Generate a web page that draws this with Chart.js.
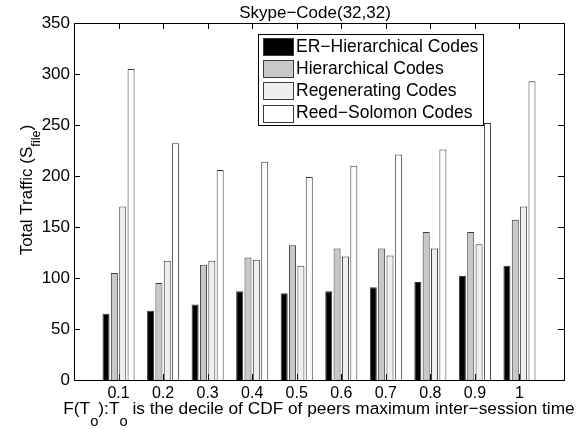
<!DOCTYPE html>
<html>
<head>
<meta charset="utf-8">
<script src="https://cdn.jsdelivr.net/npm/chart.js@4/dist/chart.umd.min.js"></script>
<style>
  html, body { margin: 0; padding: 0; background: #fff; }
</style>
</head>
<body>
<canvas id="chart" width="582" height="430"></canvas>
<script>
// ── data ─────────────────────────────────────────────────────────────────
var categories = ['0.1', '0.2', '0.3', '0.4', '0.5', '0.6', '0.7', '0.8', '0.9', '1'];
var erHierarchical = [65, 68, 74, 87, 85, 87, 91, 96, 102, 112];
var hierarchical   = [105, 95, 113, 120, 132, 129, 129, 145, 145, 157];
var regenerating   = [170, 117, 117, 118, 112, 121, 122, 129, 133, 170];
var reedSolomon    = [305, 232, 206, 214, 199, 210, 221, 226, 252, 293];
var seriesNames = ['ER\u2212Hierarchical Codes', 'Hierarchical Codes', 'Regenerating Codes', 'Reed\u2212Solomon Codes'];
var seriesFills = ['#000000', '#c8c8c8', '#efefef', '#ffffff'];
var yMin = 0, yMax = 350, yStep = 50;

var FONT = '"Liberation Sans", Arial, Helvetica, sans-serif';

// MATLAB puts the bars at x = 1..10 inside an axis running 0..11, so pad
// one empty slot on each side and turn the category offset off.
function _pad(arr) { return [null].concat(arr, [null]); }
var labels = [''].concat(categories, ['']);

var seriesData = [erHierarchical, hierarchical, regenerating, reedSolomon];
var datasets = seriesData.map(function(vals, i) {
  return {
    label: seriesNames[i],
    data: _pad(vals),
    backgroundColor: seriesFills[i],
    borderColor: '#3a3a3a',
    borderWidth: 1,
    categoryPercentage: 0.75,
    barPercentage: 0.84
  };
});

// Draw a string with TeX-ish subscripts: parts = [{t:'..', sub:true}, ...]
function _drawRich(ctx, parts, x, y, size, align, subScale, subDrop) {
  var subSize = size * subScale;
  var total = 0;
  parts.forEach(function(p) {
    ctx.font = (p.sub ? subSize : size) + 'px ' + FONT;
    p.w = ctx.measureText(p.t).width;
    total += p.w;
  });
  var cx = align === 'center' ? x - total / 2 : x;
  ctx.textAlign = 'left';
  ctx.textBaseline = 'alphabetic';
  parts.forEach(function(p) {
    ctx.font = (p.sub ? subSize : size) + 'px ' + FONT;
    ctx.fillText(p.t, cx, p.sub ? y + size * subDrop : y);
    cx += p.w;
  });
}

// ── MATLAB style axes: inward ticks, box, legend, titles ─────────────────
var matlabAxes = {
  id: 'matlabAxes',
  beforeDatasetsDraw: function(chart) {
    var ctx = chart.ctx, a = chart.chartArea;
    var xs = chart.scales.x, ys = chart.scales.y;
    var tl = 6;
    ctx.save();
    ctx.strokeStyle = '#000';
    ctx.lineWidth = 1;
    ctx.beginPath();
    for (var i = 1; i <= categories.length; i++) {
      var px = Math.round(xs.getPixelForValue(i)) + 0.5;
      ctx.moveTo(px, a.bottom); ctx.lineTo(px, a.bottom - tl);
      ctx.moveTo(px, a.top); ctx.lineTo(px, a.top + tl);
    }
    for (var v = yMin; v <= yMax; v += yStep) {
      var py = Math.round(ys.getPixelForValue(v)) + 0.5;
      ctx.moveTo(a.left, py); ctx.lineTo(a.left + tl, py);
      ctx.moveTo(a.right, py); ctx.lineTo(a.right - tl, py);
    }
    ctx.stroke();
    ctx.restore();
  },
  afterDraw: function(chart) {
    var ctx = chart.ctx, a = chart.chartArea;
    ctx.save();
    // axis box
    ctx.strokeStyle = '#000';
    ctx.lineWidth = 1;
    ctx.strokeRect(Math.round(a.left) + 0.5, Math.round(a.top) + 0.5,
                   Math.round(a.right - a.left), Math.round(a.bottom - a.top));

    ctx.fillStyle = '#000';
    // title
    _drawRich(ctx, [{ t: 'Skype\u2212Code(32,32)' }], (a.left + a.right) / 2 - 4, 18, 17, 'center', 1, 0);

    // x title
    _drawRich(ctx, [
      { t: 'F(T' }, { t: 'o', sub: true }, { t: '):T' }, { t: 'o', sub: true },
      { t: ' is the decile of CDF of peers maximum inter\u2212session time' }
    ], (a.left + a.right) / 2, 414, 17.3, 'center', 0.85, 0.68);

    // y title
    ctx.save();
    ctx.translate(32, 190);
    ctx.rotate(-Math.PI / 2);
    _drawRich(ctx, [{ t: 'Total Traffic (S' }, { t: 'file', sub: true }, { t: ')' }], 0, 0, 17, 'center', 0.75, 0.45);
    ctx.restore();

    // legend
    var lx = 258, ly = 34, lw = 225, lh = 91;
    ctx.fillStyle = '#fff';
    ctx.fillRect(lx, ly, lw, lh);
    ctx.strokeStyle = '#000';
    ctx.strokeRect(lx + 0.5, ly + 0.5, lw, lh);
    chart.data.datasets.forEach(function(ds, i) {
      var cy = 46 + i * 22.2;
      ctx.fillStyle = ds.backgroundColor;
      ctx.fillRect(263, Math.round(cy - 8), 30, 17);
      ctx.strokeStyle = '#3a3a3a';
      ctx.strokeRect(263.5, Math.round(cy - 8) + 0.5, 30, 17);
      ctx.fillStyle = '#000';
      ctx.font = '17.5px ' + FONT;
      ctx.textAlign = 'left';
      ctx.textBaseline = 'middle';
      ctx.fillText(ds.label, 296, cy + 1);
    });
    ctx.restore();
  }
};

new Chart(document.getElementById('chart'), {
  type: 'bar',
  data: { labels: labels, datasets: datasets },
  options: {
    responsive: false,
    animation: false,
    devicePixelRatio: 1,
    layout: { padding: { top: 23, right: 18, left: 0, bottom: 0 } },
    plugins: {
      legend: { display: false },
      tooltip: { enabled: false },
      title: { display: false }
    },
    scales: {
      x: {
        type: 'category',
        offset: false,
        grid: { display: false, drawTicks: false },
        border: { display: false },
        ticks: {
          autoSkip: false, maxRotation: 0, minRotation: 0, padding: 4,
          color: '#000', font: { family: FONT, size: 16 }
        },
        afterFit: function(s) { s.height = 50; }
      },
      y: {
        min: yMin,
        max: yMax,
        grid: { display: false, drawTicks: false },
        border: { display: false },
        ticks: {
          stepSize: yStep, padding: 4,
          color: '#000', font: { family: FONT, size: 17 }
        },
        afterFit: function(s) { s.width = 74; }
      }
    }
  },
  plugins: [matlabAxes]
});
</script>
</body>
</html>
